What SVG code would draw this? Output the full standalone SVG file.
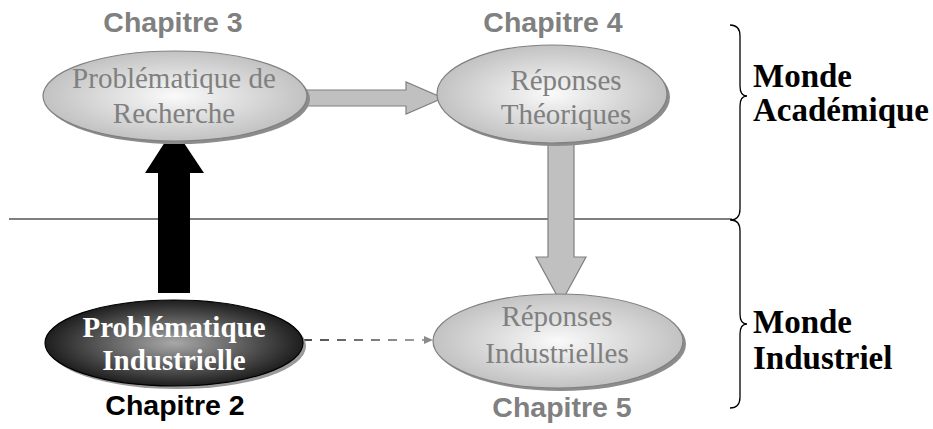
<svg xmlns="http://www.w3.org/2000/svg" width="933" height="429" viewBox="0 0 933 429">
<style>
.chap{font-family:"Liberation Sans",Arial,sans-serif;font-weight:bold;font-size:28.5px;text-anchor:middle;fill:#808080}
.lt{font-family:"Liberation Serif","Times New Roman",serif;font-size:29px;text-anchor:middle;fill:#808080}
.dk{font-family:"Liberation Serif","Times New Roman",serif;font-size:29px;font-weight:bold;text-anchor:middle;fill:#ffffff}
.monde{font-family:"Liberation Serif","Times New Roman",serif;font-size:33px;font-weight:bold;fill:#000}
.light{fill:url(#gLight);stroke:#808080;stroke-width:1.2}
.lshadow{fill:#8c8c8c}
.brace{fill:none;stroke:#000;stroke-width:1.3}
.garrow{fill:#c0c0c0;stroke:#808080;stroke-width:1.2}
</style>
<defs>
<radialGradient id="gLight" cx="0.5" cy="0.5" r="0.5">
<stop offset="0" stop-color="#fafafa"/>
<stop offset="1" stop-color="#c2c2c2"/>
</radialGradient>
<radialGradient id="gDark" cx="0.5" cy="0.5" r="0.5">
<stop offset="0" stop-color="#a8a8a8"/>
<stop offset="1" stop-color="#1e1e1e"/>
</radialGradient>
<linearGradient id="gDash" gradientUnits="userSpaceOnUse" x1="303" y1="0" x2="433" y2="0">
<stop offset="0" stop-color="#4a4a4a"/>
<stop offset="1" stop-color="#a8a8a8"/>
</linearGradient>
</defs>

<line x1="9" y1="219" x2="732" y2="219" stroke="#555" stroke-width="1.6"/>

<g id="connectors">
<path class="garrow" d="M305,90 L406,90 L406,82 L443,98 L406,114 L406,106 L305,106 Z"/>
<path class="garrow" d="M548,142 L574,142 L574,257 L586,257 L561,303 L536,257 L548,257 Z"/>
<path fill="#000" d="M158,293 L158,173 L145,173 L174,128 L204,173 L190,173 L190,293 Z"/>
<line x1="303" y1="340" x2="426" y2="340" stroke="url(#gDash)" stroke-width="2" stroke-dasharray="9,8"/>
<path d="M424,336 L433,340 L424,344 Z" fill="#8a8a8a"/>
</g>

<g id="node-recherche">
<ellipse class="lshadow" cx="178" cy="99" rx="132" ry="45"/>
<ellipse class="light" cx="175" cy="96" rx="132" ry="45"/>
<text class="lt" x="174" y="88">Problématique de</text>
<text class="lt" x="174" y="123">Recherche</text>
<text class="chap" x="173" y="32">Chapitre 3</text>
</g>

<g id="node-theoriques">
<ellipse class="lshadow" cx="555" cy="97" rx="115" ry="49"/>
<ellipse class="light" cx="552" cy="94" rx="115" ry="49"/>
<text class="lt" x="566" y="90">Réponses</text>
<text class="lt" x="566" y="124">Théoriques</text>
<text class="chap" x="553" y="32">Chapitre 4</text>
</g>

<g id="node-industrielle">
<ellipse fill="#9a9a9a" cx="177" cy="346" rx="129" ry="43"/>
<ellipse fill="url(#gDark)" stroke="#000" stroke-width="1.2" cx="174" cy="343" rx="129" ry="43"/>
<text class="dk" x="174" y="337">Problématique</text>
<text class="dk" x="174" y="370">Industrielle</text>
<text class="chap" x="175" y="415" style="fill:#000">Chapitre 2</text>
</g>

<g id="node-industrielles">
<ellipse class="lshadow" cx="561" cy="344" rx="125" ry="47"/>
<ellipse class="light" cx="558" cy="341" rx="125" ry="47"/>
<text class="lt" x="557" y="326">Réponses</text>
<text class="lt" x="557" y="363">Industrielles</text>
<text class="chap" x="562" y="417">Chapitre 5</text>
</g>

<g id="monde-academique">
<path class="brace" d="M730,25 Q740,25 740,36 L740,86 Q740,96 747,96 Q740,96 740,106 L740,209 Q740,220 730,220"/>
<text class="monde" x="753" y="87">Monde</text>
<text class="monde" x="753" y="121">Académique</text>
</g>

<g id="monde-industriel">
<path class="brace" d="M731,220 Q740,220 740,231 L740,314 Q740,324 747,324 Q740,324 740,334 L740,397 Q740,408 730,408"/>
<text class="monde" x="753" y="333">Monde</text>
<text class="monde" x="753" y="369">Industriel</text>
</g>
</svg>
